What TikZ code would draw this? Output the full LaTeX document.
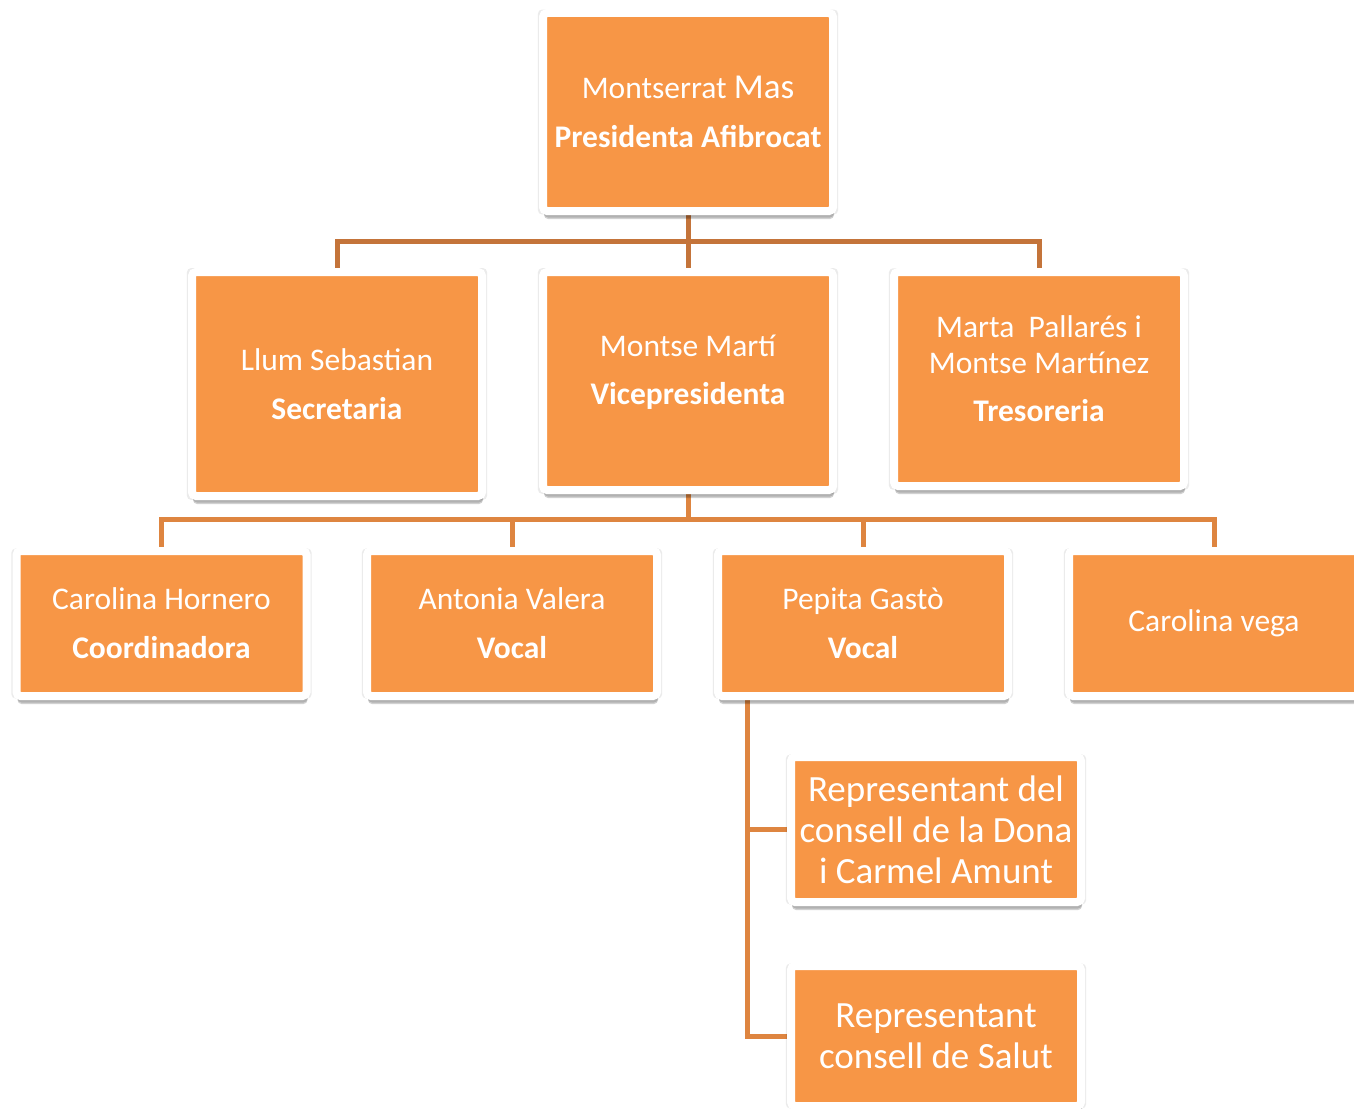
\documentclass[tikz,border=0pt]{standalone}
\usepackage{fontspec}
\setmainfont{Carlito}
\usetikzlibrary{shadows,backgrounds,calc}
\definecolor{boxfill}{HTML}{F79646}
\definecolor{lineA}{HTML}{C4743A}
\definecolor{lineB}{HTML}{DE8540}
\begin{document}
\begin{tikzpicture}[x=1pt,y=-1pt,
  orgbox/.style={fill=boxfill, draw=white, line width=8pt, rounded corners=4pt,
    minimum width=290pt, inner sep=0pt,
    general shadow={shadow scale=1.035, opacity=0.08, fill=black},
    drop shadow={shadow xshift=1pt, shadow yshift=-8pt, opacity=0.18, fill=black},
    drop shadow={shadow xshift=1pt, shadow yshift=-6.5pt, opacity=0.15, fill=black},
    text=white, align=center, font=\fontsize{31.5}{36}\selectfont},
  bigtext/.style={font=\fontsize{37}{41}\selectfont},
  plaintext/.style={text=white, align=center, font=\fontsize{31.5}{36}\selectfont, inner sep=0pt},
  conn/.style={line width=5pt}
]
\useasboundingbox (0,0) rectangle (1354,1108);

% top
\node[orgbox, minimum height=198pt] (pres) at (688,112)
  {Montserrat {\fontsize{35}{36}\selectfont Mas}\\[13pt]\textbf{Presidenta Afibrocat}};
% level 2
\node[orgbox, minimum height=224pt] (llum) at (337,384)
  {Llum Sebastian\\[13pt]\textbf{Secretaria}};
\node[orgbox, minimum height=218pt] (vice) at (688,381) {};
\node[plaintext] (vicet) at (688,372) {Montse Martí\\[12pt]\textbf{Vicepresidenta}};
\node[orgbox, minimum height=214pt] (marta) at (1039,379) {};
\node[plaintext] (martat) at (1039,369) {Marta \ Pallarés i\\Montse Martínez\\[12pt]\textbf{Tresoreria}};
% level 3
\node[orgbox, minimum height=145pt] (carh) at (161.5,623.5)
  {Carolina Hornero\\[13pt]\textbf{Coordinadora}};
\node[orgbox, minimum height=145pt] (anto) at (512,623.5)
  {Antonia Valera\\[13pt]\textbf{Vocal}};
\node[orgbox, minimum height=145pt] (pepi) at (863,623.5)
  {Pepita Gastò\\[13pt]\textbf{Vocal}};
\node[orgbox, minimum height=145pt] (carv) at (1214,623.5)
  {Carolina vega};
% level 4
\node[orgbox, bigtext, minimum height=145pt] (rep1) at (936,829.5)
  {Representant del\\consell de la Dona\\i Carmel Amunt};
\node[orgbox, bigtext, minimum height=140pt] (rep2) at (936,1036)
  {Representant\\consell de Salut};

\coordinate (bus1) at (688,241);
\coordinate (bus2) at (688,519);
\coordinate (trunk) at (747,700);

\begin{scope}[on background layer]
  \fill[white] (0,0) rectangle (1354,1108);
  \draw[conn, lineA] (pres.south) -- (vice.north);
  \draw[conn, lineA] (bus1) -| (llum.north);
  \draw[conn, lineA] (bus1) -| (marta.north);
  \draw[conn, lineB] (vice.south) -- (bus2);
  \draw[conn, lineB] (bus2) -| (carh.north);
  \draw[conn, lineB] (bus2) -| (anto.north);
  \draw[conn, lineB] (bus2) -| (pepi.north);
  \draw[conn, lineB] (bus2) -| (carv.north);
  \draw[conn, lineB] (trunk) |- (rep2.west);
  \draw[conn, lineB] (trunk |- rep1.west) -- (rep1.west);
\end{scope}
\end{tikzpicture}
\end{document}
